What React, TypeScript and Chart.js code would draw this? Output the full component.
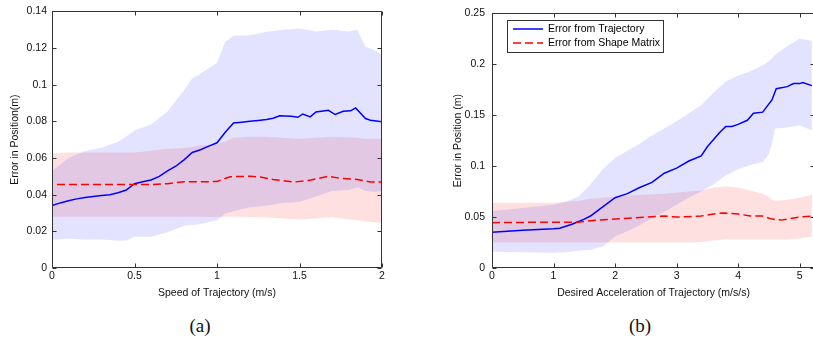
import React, { useEffect, useRef } from 'react';
import { Chart, registerables } from 'chart.js';

Chart.register(...registerables);

const FONT = "'Liberation Sans', Arial, Helvetica, sans-serif";

// ---------- Panel (a): Speed of Trajectory ----------
const A_X_TICKS = [0, 0.5, 1, 1.5, 2];
const A_X_LABELS = ['0', '0.5', '1', '1.5', '2'];
const A_Y_TICKS = [0, 0.02, 0.04, 0.06, 0.08, 0.1, 0.12, 0.14];
const A_Y_LABELS = ['0', '0.02', '0.04', '0.06', '0.08', '0.1', '0.12', '0.14'];

const A_BAND_X = [0, 0.1, 0.2, 0.3, 0.4, 0.45, 0.5, 0.6, 0.7, 0.8, 0.85, 0.9, 1.0, 1.05, 1.1, 1.2, 1.3, 1.4, 1.5, 1.6, 1.7, 1.8, 1.85, 1.9, 1.95, 2.0];
const A_BLUE_HI = [0.053, 0.06, 0.0638, 0.0656, 0.0688, 0.0719, 0.075, 0.0782, 0.0854, 0.097, 0.1035, 0.106, 0.112, 0.1234, 0.1266, 0.127, 0.1288, 0.13, 0.1306, 0.129, 0.13, 0.129, 0.13, 0.1207, 0.119, 0.116];
const A_BLUE_LO = [0.0154, 0.016, 0.0155, 0.0155, 0.0148, 0.015, 0.017, 0.017, 0.0195, 0.023, 0.0235, 0.024, 0.026, 0.0297, 0.031, 0.0332, 0.034, 0.0355, 0.036, 0.039, 0.042, 0.0425, 0.044, 0.042, 0.0415, 0.042];
const A_RED_HI = [0.0625, 0.063, 0.063, 0.063, 0.063, 0.063, 0.063, 0.064, 0.065, 0.0655, 0.066, 0.067, 0.0675, 0.069, 0.071, 0.0716, 0.0716, 0.071, 0.0705, 0.071, 0.0716, 0.0712, 0.071, 0.0705, 0.0705, 0.0705];
const A_RED_LO = [0.028, 0.028, 0.028, 0.028, 0.028, 0.028, 0.028, 0.028, 0.028, 0.028, 0.028, 0.028, 0.0278, 0.028, 0.028, 0.0278, 0.0275, 0.027, 0.0265, 0.027, 0.0278, 0.0265, 0.026, 0.0255, 0.025, 0.0245];

const A_MEAN_X = [0, 0.05, 0.1, 0.15, 0.2, 0.25, 0.3, 0.35, 0.4, 0.45, 0.5, 0.55, 0.6, 0.65, 0.7, 0.75, 0.8, 0.85, 0.9, 0.95, 1.0, 1.05, 1.1, 1.15, 1.2, 1.25, 1.3, 1.34, 1.38, 1.45, 1.49, 1.52, 1.565, 1.6, 1.675, 1.716, 1.765, 1.81, 1.84, 1.9, 1.93, 2.0];
const A_BLUE_MEAN = [0.034, 0.0355, 0.0367, 0.0377, 0.0385, 0.039, 0.0395, 0.04, 0.041, 0.0425, 0.046, 0.047, 0.048, 0.05, 0.053, 0.0555, 0.059, 0.063, 0.0645, 0.0665, 0.0683, 0.074, 0.0791, 0.0795, 0.08, 0.0805, 0.081, 0.0817, 0.083, 0.0828, 0.0822, 0.084, 0.0824, 0.0851, 0.086, 0.0837, 0.0855, 0.0857, 0.0873, 0.0815, 0.0806, 0.0797];
const A_RED_X = [0.03, 0.2, 0.4, 0.6, 0.7, 0.8, 0.9, 1.0, 1.08, 1.2, 1.27, 1.34, 1.47, 1.57, 1.675, 1.74, 1.85, 1.93, 2.0];
const A_RED_MEAN = [0.0455, 0.0455, 0.0455, 0.0455, 0.046, 0.047, 0.047, 0.0472, 0.0498, 0.05, 0.0495, 0.0483, 0.0469, 0.048, 0.05, 0.049, 0.0483, 0.0469, 0.0469];

// ---------- Panel (b): Desired Acceleration ----------
const B_X_TICKS = [0, 1, 2, 3, 4, 5];
const B_X_LABELS = ['0', '1', '2', '3', '4', '5'];
const B_Y_TICKS = [0, 0.05, 0.1, 0.15, 0.2, 0.25];
const B_Y_LABELS = ['0', '0.05', '0.1', '0.15', '0.2', '0.25'];

const B_BAND_X = [0, 0.5, 1.0, 1.2, 1.4, 1.6, 1.8, 2.0, 2.2, 2.4, 2.6, 2.8, 3.0, 3.2, 3.4, 3.6, 3.8, 4.0, 4.2, 4.4, 4.5, 4.55, 4.6, 4.8, 5.0, 5.2];
const B_BLUE_HI = [0.056, 0.059, 0.062, 0.065, 0.07, 0.082, 0.097, 0.108, 0.115, 0.122, 0.13, 0.137, 0.144, 0.152, 0.16, 0.172, 0.183, 0.189, 0.193, 0.199, 0.203, 0.206, 0.209, 0.218, 0.225, 0.223];
const B_BLUE_LO = [0.016, 0.0155, 0.015, 0.0155, 0.017, 0.018, 0.021, 0.031, 0.036, 0.042, 0.049, 0.055, 0.062, 0.069, 0.075, 0.082, 0.091, 0.097, 0.101, 0.104, 0.112, 0.122, 0.137, 0.138, 0.14, 0.135];
const B_RED_HI = [0.064, 0.064, 0.064, 0.065, 0.066, 0.068, 0.069, 0.07, 0.071, 0.072, 0.0725, 0.073, 0.074, 0.075, 0.076, 0.079, 0.08, 0.079, 0.076, 0.073, 0.07, 0.067, 0.066, 0.067, 0.069, 0.072];
const B_RED_LO = [0.025, 0.025, 0.025, 0.025, 0.025, 0.025, 0.025, 0.025, 0.025, 0.025, 0.025, 0.025, 0.025, 0.025, 0.0255, 0.027, 0.028, 0.028, 0.028, 0.028, 0.028, 0.028, 0.028, 0.028, 0.029, 0.031];

const B_MEAN_X = [0, 0.5, 1.0, 1.1, 1.3, 1.5, 1.6, 1.8, 2.0, 2.2, 2.4, 2.6, 2.8, 3.0, 3.2, 3.4, 3.5, 3.7, 3.8, 3.9, 4.0, 4.15, 4.25, 4.4, 4.55, 4.62, 4.8, 4.9, 5.0, 5.05, 5.2];
const B_BLUE_MEAN = [0.035, 0.037, 0.0385, 0.039, 0.043, 0.048, 0.051, 0.06, 0.069, 0.073, 0.079, 0.084, 0.093, 0.098, 0.105, 0.11, 0.119, 0.133, 0.139, 0.139, 0.141, 0.145, 0.152, 0.153, 0.165, 0.176, 0.178, 0.181, 0.181, 0.182, 0.179];
const B_RED_X = [0, 1.0, 1.4, 1.7, 2.0, 2.5, 2.8, 3.0, 3.4, 3.6, 3.75, 4.0, 4.2, 4.4, 4.55, 4.7, 4.9, 5.0, 5.2];
const B_RED_MEAN = [0.0445, 0.045, 0.045, 0.047, 0.048, 0.05, 0.051, 0.05, 0.051, 0.053, 0.054, 0.053, 0.051, 0.051, 0.048, 0.047, 0.049, 0.05, 0.051];

const SERIES_LABELS = ['Error from Trajectory', 'Error from Shape Matrix'];

const BLUE = '#0000ff';
const RED = '#ff0000';
const BLUE_FILL = 'rgba(0,0,255,0.11)';
const RED_FILL = 'rgba(255,0,0,0.12)';
const AXIS = '#333333';

const zip = (xs: number[], ys: number[]) => xs.map((x, i) => ({ x, y: ys[i] }));

const boxTicks = {
  id: 'boxTicks',
  afterDatasetsDraw(chart: any) {
    const { ctx, chartArea } = chart;
    const x = chart.scales.x;
    const y = chart.scales.y;
    const l = Math.round(chartArea.left) + 0.5;
    const r = Math.round(chartArea.right) - 0.5;
    const t = Math.round(chartArea.top) + 0.5;
    const b = Math.round(chartArea.bottom) - 0.5;
    const len = 4;
    ctx.save();
    ctx.strokeStyle = AXIS;
    ctx.lineWidth = 1;
    ctx.beginPath();
    ctx.rect(l, t, r - l, b - t);
    x.ticks.forEach((tk: any) => {
      const px = Math.round(x.getPixelForValue(tk.value)) + 0.5;
      ctx.moveTo(px, b);
      ctx.lineTo(px, b - len);
      ctx.moveTo(px, t);
      ctx.lineTo(px, t + len);
    });
    y.ticks.forEach((tk: any) => {
      const py = Math.round(y.getPixelForValue(tk.value)) + 0.5;
      ctx.moveTo(l, py);
      ctx.lineTo(l + len, py);
      ctx.moveTo(r, py);
      ctx.lineTo(r - len, py);
    });
    ctx.stroke();
    ctx.restore();
  },
};

const boxLegend = {
  id: 'boxLegend',
  afterDraw(chart: any, _args: any, opts: any) {
    if (!opts || !opts.show) return;
    const { ctx } = chart;
    const { left, top, width, height } = opts;
    ctx.save();
    ctx.fillStyle = '#ffffff';
    ctx.fillRect(left, top, width, height);
    ctx.strokeStyle = AXIS;
    ctx.lineWidth = 1;
    ctx.strokeRect(left + 0.5, top + 0.5, width, height);
    const order = [1, 0];
    order.forEach((di, row) => {
      const ds = chart.data.datasets[di];
      const cy = top + 9 + row * 14;
      ctx.beginPath();
      ctx.strokeStyle = ds.borderColor;
      ctx.lineWidth = 1.5;
      ctx.setLineDash(ds.borderDash || []);
      ctx.moveTo(left + 6, cy);
      ctx.lineTo(left + 36, cy);
      ctx.stroke();
      ctx.setLineDash([]);
      ctx.fillStyle = '#000000';
      ctx.font = `10.5px ${FONT}`;
      ctx.textBaseline = 'middle';
      ctx.textAlign = 'left';
      ctx.fillText(ds.label, left + 41, cy + 0.5);
    });
    ctx.restore();
  },
};

type Panel = {
  xMax: number;
  xTicks: number[];
  xLabels: string[];
  yMax: number;
  yTicks: number[];
  yLabels: string[];
  xTitle: string;
  yTitle: string;
  yAxisWidth: number;
  yTitlePad: number;
  yTickPad: number;
  padRight: number;
  legend: boolean;
  bandX: number[];
  blueHi: number[];
  blueLo: number[];
  redHi: number[];
  redLo: number[];
  meanX: number[];
  blueMean: number[];
  redX: number[];
  redMean: number[];
};

function buildConfig(p: Panel): any {
  const lineBase = { pointRadius: 0, tension: 0, fill: false };
  return {
    type: 'line',
    data: {
      datasets: [
        { ...lineBase, label: SERIES_LABELS[1], data: zip(p.redX, p.redMean), borderColor: RED, borderWidth: 1.5, borderDash: [8, 4] },
        { ...lineBase, label: SERIES_LABELS[0], data: zip(p.meanX, p.blueMean), borderColor: BLUE, borderWidth: 1.5 },
        { ...lineBase, label: 'blue upper', data: zip(p.bandX, p.blueHi), borderWidth: 0, borderColor: 'rgba(0,0,0,0)', backgroundColor: BLUE_FILL, fill: '+1' },
        { ...lineBase, label: 'blue lower', data: zip(p.bandX, p.blueLo), borderWidth: 0, borderColor: 'rgba(0,0,0,0)' },
        { ...lineBase, label: 'red upper', data: zip(p.bandX, p.redHi), borderWidth: 0, borderColor: 'rgba(0,0,0,0)', backgroundColor: RED_FILL, fill: '+1' },
        { ...lineBase, label: 'red lower', data: zip(p.bandX, p.redLo), borderWidth: 0, borderColor: 'rgba(0,0,0,0)' },
      ],
    },
    options: {
      responsive: false,
      animation: false,
      devicePixelRatio: 1,
      layout: { padding: { left: 0, top: 9, right: p.padRight, bottom: 0 } },
      plugins: {
        legend: { display: false },
        tooltip: { enabled: false },
        boxLegend: { show: p.legend, left: 97, top: 20, width: 156, height: 32 },
      },
      scales: {
        x: {
          type: 'linear',
          min: 0,
          max: p.xMax,
          grid: { display: false, drawTicks: false },
          border: { display: false },
          afterBuildTicks: (s: any) => {
            s.ticks = p.xTicks.map((v) => ({ value: v }));
          },
          afterFit: (s: any) => {
            s.height = 37;
          },
          ticks: {
            padding: 2,
            color: '#111',
            font: { family: FONT, size: 10.5 },
            maxRotation: 0,
            autoSkip: false,
            callback: (_v: any, i: number) => p.xLabels[i],
          },
          title: {
            display: true,
            text: p.xTitle,
            color: '#111',
            font: { family: FONT, size: 10.5 },
            padding: { top: 0, bottom: 6 },
          },
        },
        y: {
          type: 'linear',
          min: 0,
          max: p.yMax,
          grid: { display: false, drawTicks: false },
          border: { display: false },
          afterBuildTicks: (s: any) => {
            s.ticks = p.yTicks.map((v) => ({ value: v }));
          },
          afterFit: (s: any) => {
            s.width = p.yAxisWidth;
          },
          ticks: {
            padding: p.yTickPad,
            color: '#111',
            font: { family: FONT, size: 10.5 },
            autoSkip: false,
            callback: (_v: any, i: number) => p.yLabels[i],
          },
          title: {
            display: true,
            text: p.yTitle,
            color: '#111',
            font: { family: FONT, size: 10.5 },
            padding: { top: p.yTitlePad, bottom: 0 },
          },
        },
      },
    },
    plugins: [boxTicks, boxLegend],
  };
}

const PANEL_A: Panel = {
  xMax: 2,
  xTicks: A_X_TICKS,
  xLabels: A_X_LABELS,
  yMax: 0.14,
  yTicks: A_Y_TICKS,
  yLabels: A_Y_LABELS,
  xTitle: 'Speed of Trajectory (m/s)',
  yTitle: 'Error in Position(m)',
  yAxisWidth: 52,
  yTitlePad: 9,
  yTickPad: 5,
  padRight: 18,
  legend: false,
  bandX: A_BAND_X,
  blueHi: A_BLUE_HI,
  blueLo: A_BLUE_LO,
  redHi: A_RED_HI,
  redLo: A_RED_LO,
  meanX: A_MEAN_X,
  blueMean: A_BLUE_MEAN,
  redX: A_RED_X,
  redMean: A_RED_MEAN,
};

const PANEL_B: Panel = {
  xMax: 5.25,
  xTicks: B_X_TICKS,
  xLabels: B_X_LABELS,
  yMax: 0.25,
  yTicks: B_Y_TICKS,
  yLabels: B_Y_LABELS,
  xTitle: 'Desired Acceleration of Trajectory (m/s/s)',
  yTitle: 'Error in Position (m)',
  yAxisWidth: 82,
  yTitlePad: 41.5,
  yTickPad: 7,
  padRight: 5,
  legend: true,
  bandX: B_BAND_X,
  blueHi: B_BLUE_HI,
  blueLo: B_BLUE_LO,
  redHi: B_RED_HI,
  redLo: B_RED_LO,
  meanX: B_MEAN_X,
  blueMean: B_BLUE_MEAN,
  redX: B_RED_X,
  redMean: B_RED_MEAN,
};

function PanelChart({ panel, left, width }: { panel: Panel; left: number; width: number }) {
  const ref = useRef<HTMLCanvasElement | null>(null);
  useEffect(() => {
    if (!ref.current) return;
    const chart = new Chart(ref.current, buildConfig(panel));
    return () => chart.destroy();
  }, [panel]);
  return (
    <canvas
      ref={ref}
      width={width}
      height={305}
      style={{ position: 'absolute', left, top: 0, width, height: 305 }}
    />
  );
}

export default function App() {
  const caption: React.CSSProperties = {
    position: 'absolute',
    top: 314,
    width: 60,
    textAlign: 'center',
    fontFamily: "'Liberation Serif', 'Times New Roman', serif",
    fontSize: 19,
    lineHeight: '24px',
    color: '#111',
  };
  return (
    <div
      style={{
        position: 'fixed',
        left: 0,
        top: 0,
        width: 813,
        height: 339,
        overflow: 'hidden',
        background: '#ffffff',
      }}
    >
      <PanelChart panel={PANEL_A} left={0} width={400} />
      <PanelChart panel={PANEL_B} left={410} width={410} />
      <div style={{ ...caption, left: 170 }}>(a)</div>
      <div style={{ ...caption, left: 610 }}>(b)</div>
    </div>
  );
}
